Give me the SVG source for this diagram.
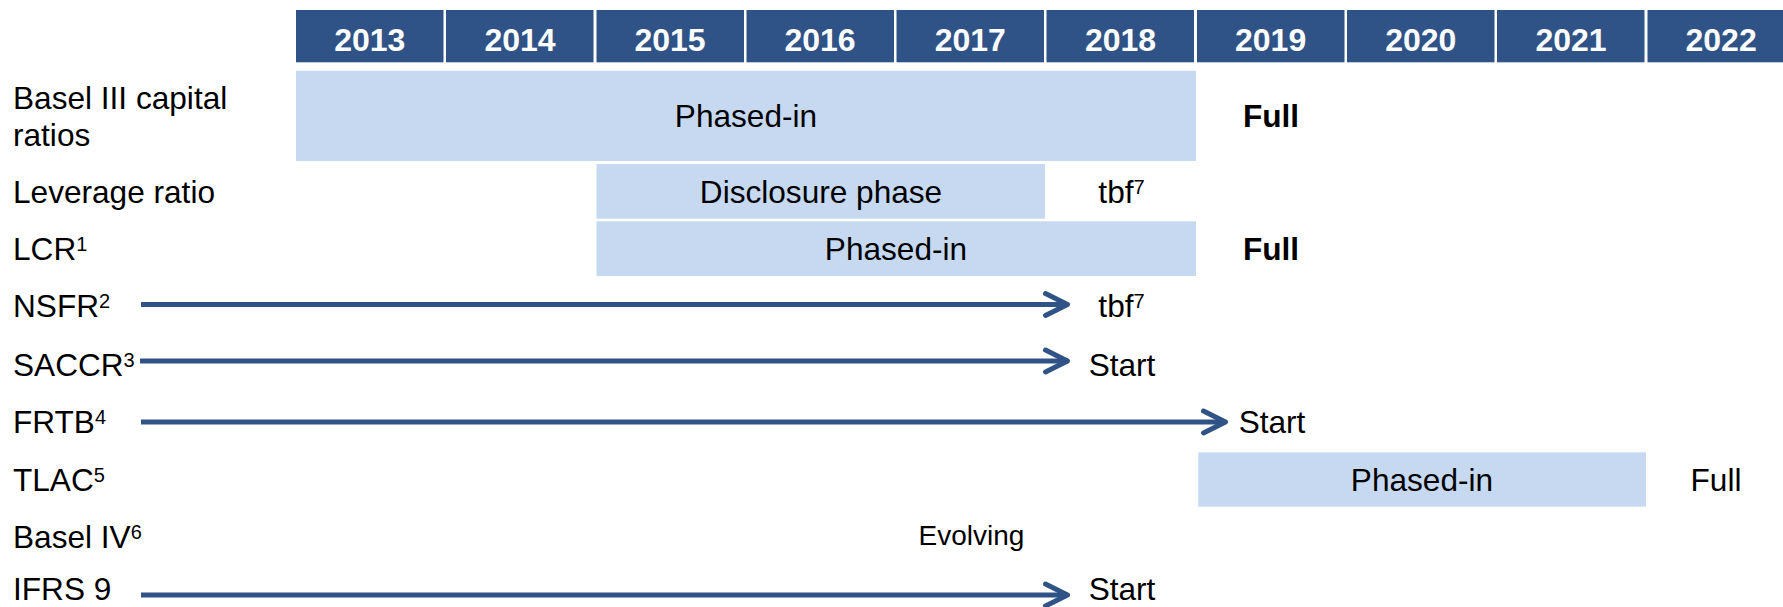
<svg xmlns="http://www.w3.org/2000/svg" width="1783" height="607" viewBox="0 0 1783 607">
<style>
.hdr{fill:#2F5386}
.yr{font-family:"Liberation Sans",Arial,sans-serif;font-weight:bold;font-size:32px;fill:#ffffff;text-anchor:middle}
.bar{fill:#C6D9F0}
.t{font-family:"Liberation Sans",Arial,sans-serif;font-size:31.6px;fill:#000000}
.c{text-anchor:middle}
.b{font-weight:bold}
.ev{font-size:28px}
.sup{font-size:20px}
.arr{stroke:#2F5386;stroke-width:5;fill:none;marker-end:url(#chev)}
</style>
<defs>
<marker id="chev" markerUnits="userSpaceOnUse" markerWidth="40" markerHeight="40" viewBox="-5 -5 40 40" refX="22" refY="11" orient="auto" overflow="visible">
<path d="M0,0 L22,11 L0,22" fill="none" stroke="#2F5386" stroke-width="5" stroke-linecap="round" stroke-linejoin="round"/>
</marker>
</defs>
<rect width="1783" height="607" fill="#ffffff"/>
<g id="header">
<rect class="hdr" x="296" y="10" width="147.5" height="52.3"/>
<rect class="hdr" x="446" y="10" width="147.5" height="52.3"/>
<rect class="hdr" x="596.5" y="10" width="147.5" height="52.3"/>
<rect class="hdr" x="746.5" y="10" width="147.5" height="52.3"/>
<rect class="hdr" x="896.5" y="10" width="147.5" height="52.3"/>
<rect class="hdr" x="1046.5" y="10" width="147.5" height="52.3"/>
<rect class="hdr" x="1197" y="10" width="147.5" height="52.3"/>
<rect class="hdr" x="1347" y="10" width="147.5" height="52.3"/>
<rect class="hdr" x="1497" y="10" width="147.5" height="52.3"/>
<rect class="hdr" x="1647.5" y="10" width="147.5" height="52.3"/>
<text class="yr" x="369.8" y="51">2013</text>
<text class="yr" x="520" y="51">2014</text>
<text class="yr" x="670" y="51">2015</text>
<text class="yr" x="820" y="51">2016</text>
<text class="yr" x="970.3" y="51">2017</text>
<text class="yr" x="1120.5" y="51">2018</text>
<text class="yr" x="1270.6" y="51">2019</text>
<text class="yr" x="1420.8" y="51">2020</text>
<text class="yr" x="1571" y="51">2021</text>
<text class="yr" x="1721.1" y="51">2022</text>
</g>
<g id="row-basel3">
<text class="t" x="13" y="108.5">Basel III capital</text>
<text class="t" x="13" y="145.5">ratios</text>
<rect class="bar" x="296" y="70.7" width="900" height="90.3"/>
<text class="t c" x="746" y="126.5">Phased-in</text>
<text class="t c b" x="1271" y="126.5">Full</text>
</g>
<g id="row-leverage">
<text class="t" x="13" y="202.5">Leverage ratio</text>
<rect class="bar" x="596.5" y="164" width="448.5" height="54.7"/>
<text class="t c" x="821" y="202.5">Disclosure phase</text>
<text class="t c" x="1121.5" y="203">tbf<tspan class="sup" dy="-9">7</tspan></text>
</g>
<g id="row-lcr">
<text class="t" x="13" y="260">LCR<tspan class="sup" dy="-9">1</tspan></text>
<rect class="bar" x="596.5" y="221.3" width="599.5" height="54.7"/>
<text class="t c" x="896" y="260">Phased-in</text>
<text class="t c b" x="1271" y="260">Full</text>
</g>
<g id="row-nsfr">
<text class="t" x="13" y="316.5">NSFR<tspan class="sup" dy="-9">2</tspan></text>
<text class="t c" x="1121.5" y="316.5">tbf<tspan class="sup" dy="-9">7</tspan></text>
</g>
<g id="row-saccr">
<text class="t" x="13" y="375.5">SACCR<tspan class="sup" dy="-9">3</tspan></text>
<text class="t c" x="1122" y="375.5">Start</text>
</g>
<g id="row-frtb">
<text class="t" x="13" y="433">FRTB<tspan class="sup" dy="-9">4</tspan></text>
<text class="t c" x="1272" y="433">Start</text>
</g>
<g id="row-tlac">
<text class="t" x="13" y="490.5">TLAC<tspan class="sup" dy="-9">5</tspan></text>
<rect class="bar" x="1198.3" y="452.3" width="447.7" height="54.4"/>
<text class="t c" x="1422" y="490.5">Phased-in</text>
<text class="t c" x="1716" y="490.5">Full</text>
</g>
<g id="row-basel4">
<text class="t" x="13" y="548">Basel IV<tspan class="sup" dy="-9">6</tspan></text>
<text class="t c ev" x="971.5" y="545">Evolving</text>
</g>
<g id="row-ifrs9">
<text class="t" x="13" y="600">IFRS 9</text>
<text class="t c" x="1122" y="600">Start</text>
</g>
<g id="connectors">
<line class="arr" x1="141" y1="304.5" x2="1067.5" y2="304.5"/>
<line class="arr" x1="140" y1="361" x2="1067.5" y2="361"/>
<line class="arr" x1="141" y1="422" x2="1225.5" y2="422"/>
<line class="arr" x1="141" y1="595" x2="1067.5" y2="595"/>
</g>
</svg>
